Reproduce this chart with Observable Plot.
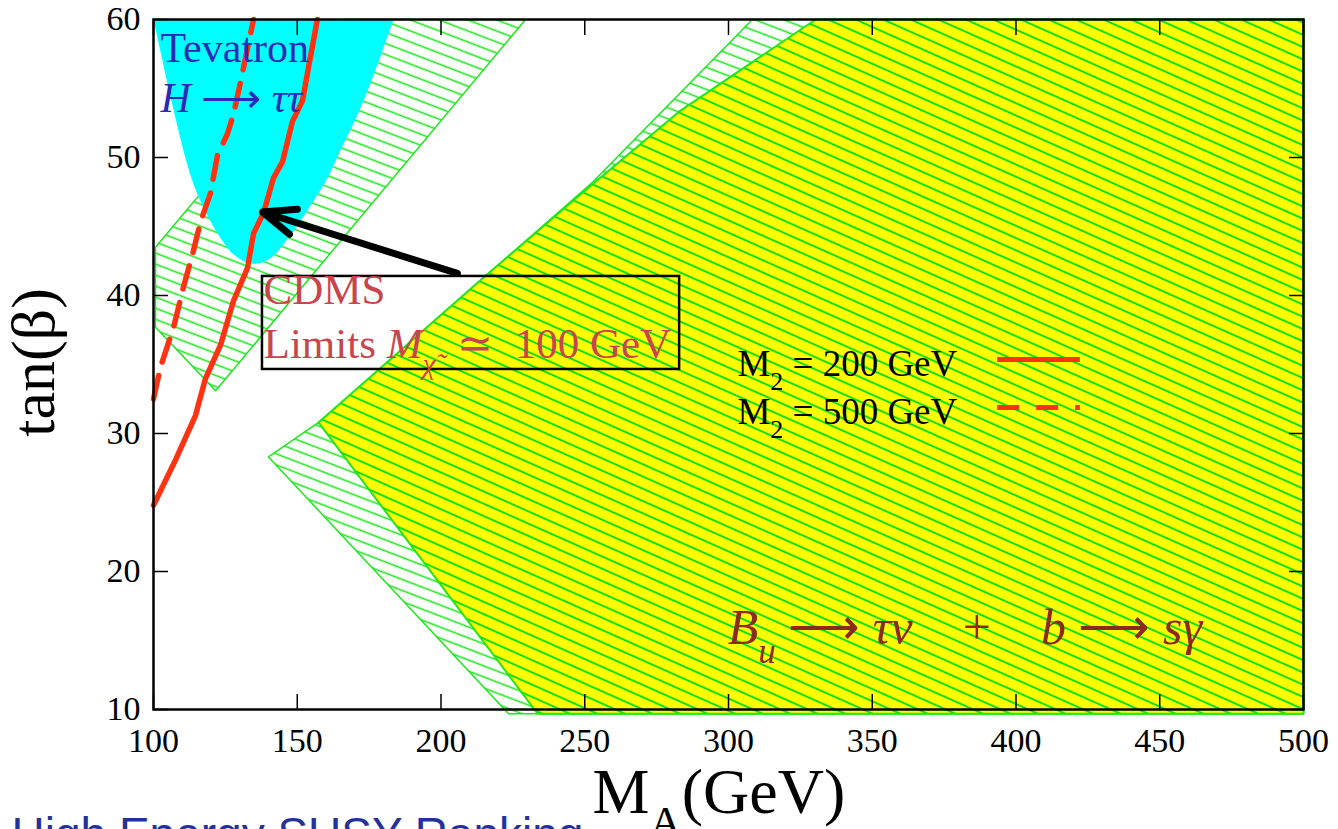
<!DOCTYPE html>
<html>
<head>
<meta charset="utf-8">
<script src="https://cdn.jsdelivr.net/npm/d3@7"></script>
<script src="https://cdn.jsdelivr.net/npm/@observablehq/plot@0.6"></script>
<style>
  html, body { margin: 0; padding: 0; background: #fff; overflow: hidden; }
</style>
</head>
<body>
<div id="chart"></div>
<script>
// Axis ticks
const xTicks = [100, 150, 200, 250, 300, 350, 400, 450, 500];
const yTicks = [10, 20, 30, 40, 50, 60];

// Region excluded by B_u → τν + b → sγ, as [M_A (GeV), tanβ] vertices
const bphysRegion = [
  [330.3, 60], [500, 60], [500, 9.7], [233.6, 9.7],
  [157.4, 30.8], [214.8, 41.3], [246.1, 46.9], [283.3, 53.4]
];
// Wider hatched band around that region
const bphysBand = [
  [140.0, 28.3], [157.4, 30.8], [252.7, 48.2], [308.3, 60],
  [500, 60], [500, 9.7], [223.5, 9.7]
];
// Hatched band at low M_A / large tanβ
const lowMassBand = [
  [100.7, 43.5], [167.1, 60], [229.4, 60], [121.6, 33.1], [100.7, 37.7]
];
// Tevatron H → ττ exclusion contour
const tevatron = [
  [100, 60], [102.4, 57.7], [104.9, 55.3], [107.7, 52.8], [110.4, 50.5],
  [113.2, 48.5], [116.3, 46.85], [122.3, 44.5], [128.3, 42.9], [134.6, 42.3],
  [140.7, 42.7], [146.6, 44.1], [151.1, 45.4], [155.6, 46.85], [160.5, 48.5],
  [165.0, 50.5], [169.9, 52.6], [174.4, 54.8], [178.9, 57.3], [183.5, 60]
];
// CDMS limits, M2 = 200 GeV
const cdmsM2_200 = [
  [100, 24.8], [107.7, 28.1], [114.6, 31.3], [118.1, 34.0], [123.3, 36.4],
  [127.8, 39.6], [132.7, 42.0], [134.8, 44.5], [138.3, 46.0], [141.7, 48.5],
  [144.9, 49.7], [148.3, 52.6], [151.8, 54.1], [153.9, 56.5], [157.0, 60]
];
// CDMS limits, M2 = 500 GeV
const cdmsM2_500 = [
  [100, 32.5], [102.4, 34.8], [107.0, 37.7], [110.4, 40.6], [113.6, 43.0],
  [116.3, 45.3], [119.8, 47.4], [122.3, 50.2], [125.7, 51.7], [127.8, 53.1],
  [130.3, 55.5], [132.0, 57.2], [134.8, 60]
];

const green = "#1ee61e";
const red = "#ff3312";
const serif = "'Liberation Serif', 'Times New Roman', serif";
const svgNS = "http://www.w3.org/2000/svg";
const px = d => d[0], py = d => d[1];

const chart = Plot.plot({
  width: 1338,
  height: 829,
  marginLeft: 153,
  marginRight: 35,
  marginTop: 19,
  marginBottom: 120,
  x: {domain: [100, 500]},
  y: {domain: [10, 60]},
  style: {fontFamily: serif, fontSize: "34px", color: "black", background: "white", overflow: "visible"},
  marks: [
    // hatched exclusion regions
    Plot.line(bphysBand, {x: px, y: py, curve: "linear-closed", fill: "url(#hatchBand)", stroke: green, strokeWidth: 1.5}),
    Plot.line(bphysRegion, {x: px, y: py, curve: "linear-closed", fill: "url(#hatchYellow)", stroke: green, strokeWidth: 2}),
    Plot.line(lowMassBand, {x: px, y: py, curve: "linear-closed", fill: "url(#hatchBand)", stroke: green, strokeWidth: 1.5}),
    // Tevatron region
    Plot.line(tevatron, {x: px, y: py, curve: "catmull-rom", fill: "#00ffff", stroke: "none"}),
    // CDMS limit curves
    Plot.line(cdmsM2_500, {x: px, y: py, stroke: red, strokeWidth: 5.5, strokeDasharray: "24,14"}),
    Plot.line(cdmsM2_200, {x: px, y: py, stroke: red, strokeWidth: 5.5, strokeLinejoin: "round"}),
    // CDMS annotation box and arrow
    Plot.rect([0], {x1: 137.9, x2: 283.0, y1: 34.64, y2: 41.38, fill: "none", stroke: "black", strokeWidth: 2.5}),
    Plot.arrow([0], {x1: 205.7, y1: 41.6, x2: 137.9, y2: 46.05, stroke: "black", strokeWidth: 7, headLength: 7.5, headAngle: 44}),
    Plot.text(["CDMS"], {x: 138.3, y: 39.42, text: d => d, textAnchor: "start", lineAnchor: "bottom", fontSize: 43, fill: "#c8454e"}),
    Plot.text(["Limits *M*_{*χ̃*}\u2002≃\u2002100 GeV"], {x: 138.3, y: 35.5, text: d => d, textAnchor: "start", lineAnchor: "bottom", fontSize: 43, fill: "#c8454e"}),
    // Tevatron label
    Plot.text(["Tevatron"], {x: 102.4, y: 56.9, text: d => d, textAnchor: "start", lineAnchor: "bottom", fontSize: 42, fill: "#2a2ab8"}),
    Plot.text(["*H* ⟶ *ττ*"], {x: 102.4, y: 53.3, text: d => d, textAnchor: "start", lineAnchor: "bottom", fontSize: 42, fill: "#2a2ab8"}),
    // legend
    Plot.text(["M_{2} = 200 GeV"], {x: 303.1, y: 34.2, text: d => d, textAnchor: "start", lineAnchor: "bottom", fontSize: 37}),
    Plot.text(["M_{2} = 500 GeV"], {x: 303.1, y: 30.72, text: d => d, textAnchor: "start", lineAnchor: "bottom", fontSize: 37}),
    Plot.ruleY([0], {y: 35.36, x1: 393.6, x2: 422.4, stroke: red, strokeWidth: 5}),
    Plot.ruleY([0], {y: 31.88, x1: 393.6, x2: 422.4, stroke: red, strokeWidth: 5, strokeDasharray: "22,17"}),
    // process label
    Plot.text(["*B*_{*u*} ⟶ *τν*\u2003+\u2003*b* ⟶ *sγ*"], {x: 299.7, y: 14.78, text: d => d, textAnchor: "start", lineAnchor: "bottom", fontSize: 50, fill: "#8c2a1e"}),
    // axes: labels outside, ticks pointing inward on all four sides
    Plot.axisX({anchor: "bottom", ticks: xTicks, tickSize: 0, tickPadding: 18, label: null, fontSize: 34}),
    Plot.axisX({anchor: "bottom", ticks: xTicks, tickSize: -15, tickFormat: () => "", label: null, strokeWidth: 1.5}),
    Plot.axisX({anchor: "top", ticks: xTicks, tickSize: -15, tickFormat: () => "", label: null, strokeWidth: 1.5}),
    Plot.axisY({anchor: "left", ticks: yTicks, tickSize: 0, tickPadding: 13, label: null, fontSize: 34}),
    Plot.axisY({anchor: "left", ticks: yTicks, tickSize: -15, tickFormat: () => "", label: null, strokeWidth: 1.5}),
    Plot.axisY({anchor: "right", ticks: yTicks, tickSize: -15, tickFormat: () => "", label: null, strokeWidth: 1.5}),
    Plot.frame({stroke: "black", strokeWidth: 2.5}),
    // axis titles
    Plot.text(["M_{A}(GeV)"], {frameAnchor: "bottom-left", dx: 439, dy: 103.5, text: d => d, textAnchor: "start", lineAnchor: "bottom", fontSize: 64}),
    Plot.text(["tan(β)"], {frameAnchor: "left", dx: -100, dy: -2, rotate: -90, text: d => d, textAnchor: "middle", lineAnchor: "bottom", fontSize: 62}),
    // footer
    Plot.text(["High Energy SUSY Ranking"], {frameAnchor: "bottom-left", dx: -142, dy: 140, text: d => d, textAnchor: "start", lineAnchor: "bottom", fontFamily: "'Liberation Sans', Arial, sans-serif", fontSize: 46, fill: "#23329b"})
  ]
});

// Hatch patterns used as fills
function addHatch(svg, id, {angle, spacing, color, width, background}) {
  let defs = svg.querySelector("defs");
  if (!defs) {
    defs = document.createElementNS(svgNS, "defs");
    svg.insertBefore(defs, svg.firstChild);
  }
  const p = document.createElementNS(svgNS, "pattern");
  p.setAttribute("id", id);
  p.setAttribute("patternUnits", "userSpaceOnUse");
  p.setAttribute("width", 10);
  p.setAttribute("height", spacing);
  p.setAttribute("patternTransform", `rotate(${angle})`);
  if (background) {
    const r = document.createElementNS(svgNS, "rect");
    r.setAttribute("width", 10);
    r.setAttribute("height", spacing);
    r.setAttribute("fill", background);
    p.appendChild(r);
  }
  const l = document.createElementNS(svgNS, "line");
  l.setAttribute("x1", -1);
  l.setAttribute("x2", 11);
  l.setAttribute("y1", spacing / 2);
  l.setAttribute("y2", spacing / 2);
  l.setAttribute("stroke", color);
  l.setAttribute("stroke-width", width);
  p.appendChild(l);
  defs.appendChild(p);
}
addHatch(chart, "hatchBand", {angle: 21, spacing: 10.3, color: green, width: 1.6});
addHatch(chart, "hatchYellow", {angle: 24, spacing: 11.2, color: "#10e010", width: 2, background: "#ffff00"});

document.getElementById("chart").appendChild(chart);

// Light markup in labels: *…* italic, _{…} subscript
function renderRich(svg) {
  for (const el of svg.querySelectorAll("text")) {
    const src = el.textContent;
    if (!src.includes("_{") && !src.includes("*")) continue;
    const fs = parseFloat(getComputedStyle(el).fontSize);
    const runs = [];
    let italic = false, sub = false, buf = "";
    const flush = () => { if (buf) runs.push({text: buf, italic, sub}); buf = ""; };
    for (let i = 0; i < src.length; i++) {
      const c = src[i];
      if (c === "*") { flush(); italic = !italic; }
      else if (c === "_" && src[i + 1] === "{") { flush(); sub = true; i++; }
      else if (c === "}" && sub) { flush(); sub = false; }
      else buf += c;
    }
    flush();
    el.textContent = "";
    let shift = 0;
    for (const r of runs) {
      const t = document.createElementNS(svgNS, "tspan");
      t.textContent = r.text;
      if (r.italic) t.setAttribute("font-style", "italic");
      const target = r.sub ? 0.38 * fs : 0;
      if (target !== shift) { t.setAttribute("dy", target - shift); shift = target; }
      if (r.sub) t.setAttribute("font-size", 0.7 * fs);
      el.appendChild(t);
    }
  }
}
renderRich(chart);
</script>
</body>
</html>
